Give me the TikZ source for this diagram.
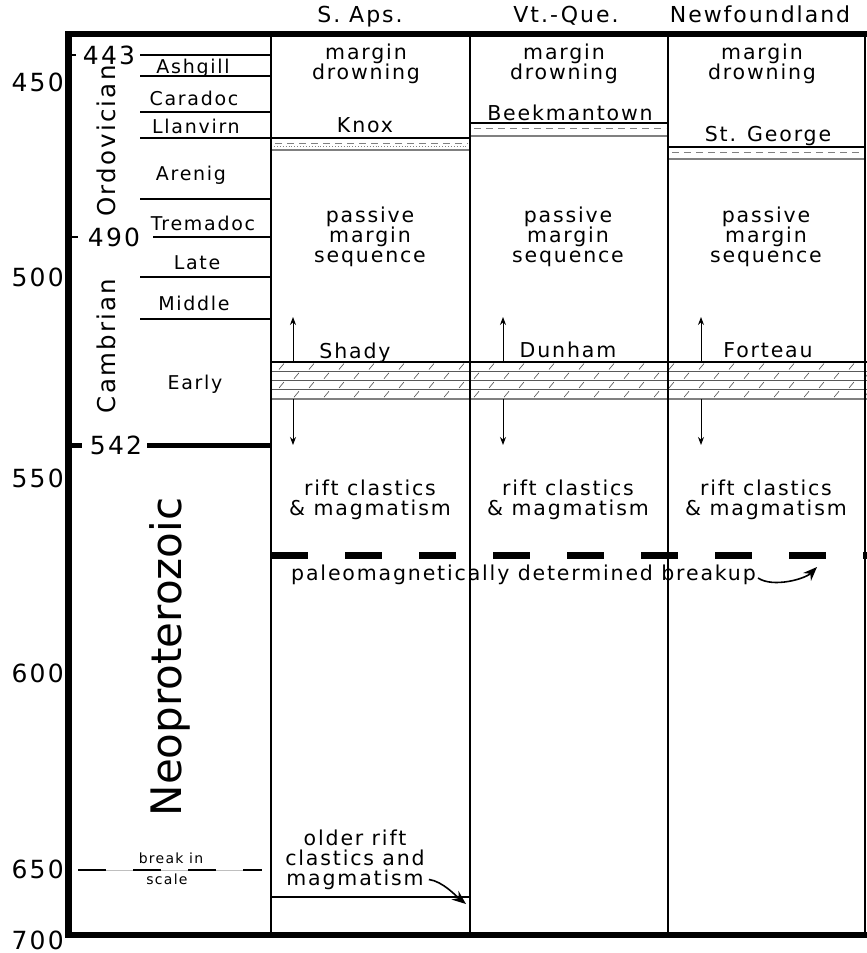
\documentclass[tikz,border=0pt]{standalone}
\usepackage{fontspec}
\setmainfont{DejaVu Sans}[LetterSpace=9]
\usetikzlibrary{arrows.meta}
\usetikzlibrary{positioning}

\begin{document}
\begin{tikzpicture}[x=1pt,y=-1pt,node distance=198pt,
  txt/.style={font=\fontsize{20.5}{20}\selectfont,align=center,anchor=base,inner sep=0pt},
  hdr/.style={font=\fontsize{22}{22}\selectfont,anchor=base,inner sep=0pt},
  stage/.style={font=\fontsize{19}{19}\selectfont,anchor=base,inner sep=0pt},
  age/.style={font=\fontsize{25}{25}\selectfont,inner sep=0pt},
  era/.style={font=\fontsize{24.5}{24.5}\selectfont,rotate=90,anchor=base,inner sep=0pt},
  heavy/.style={line width=6.5pt},
  divider/.style={line width=2.5pt},
  bound/.style={line width=1.6pt},
  move/.style={-{Stealth[length=8pt,width=6pt]},line width=1pt},
  curvearrow/.style={-{Stealth[length=14pt,width=11pt]},line width=1.6pt}]

\useasboundingbox (0,0) rectangle (867,953);

% limestone band
\foreach \r/\ya/\off in {0/362/8,1/371.25/23,2/380.5/8,3/389.75/23}
  \foreach \x in {0,30,...,570}
    \draw[gray!60!black,line width=0.6pt] (271+\x+\off,\ya+7.5) -- ++(5,-6);
\foreach \y in {371.25,380.5,389.75} \draw[gray!70!black,line width=0.8pt] (271,\y) -- (867,\y);
\draw[line width=1.2pt] (271,362) -- (867,362);
\draw[gray,line width=2pt] (271,399) -- (867,399);

% shale bands
\foreach \xa/\xb/\ta/\tb in {271/470/138/150,470/668/123/136,668/865/147/159} {
  \draw[line width=1.2pt] (\xa,\ta) -- (\xb,\ta);
  \draw[gray,line width=1.8pt] (\xa,\tb) -- (\xb,\tb);
  \draw[gray,line width=0.7pt,dash pattern=on 7pt off 5pt] (\xa+4,\ta+5) -- (\xb-2,\ta+5);
}
\draw[gray,line width=0.9pt,dotted] (274,146.5) -- (468,146.5);

% frame and columns
\draw[heavy] (67,34) -- (867,34);
\draw[heavy] (68.5,31) -- (68.5,938);
\draw[heavy] (67,935) -- (867,935);
\foreach \x in {271,470,668,865} \draw[divider] (\x,34) -- (\x,935);

% time scale
\foreach \y in {55,76,112,138,199,277,319} \draw[bound] (140,\y) -- (271,\y);
\draw[bound] (153,237) -- (271,237);
\draw[bound] (68,55) -- (76,55);
\draw[bound] (68,237) -- (78,237);
\draw[line width=5pt] (68,445) -- (82,445) (147,445) -- (271,445);

\node[age] (t443) at (109,55) {443};
\node[age] (t490) at (114,237) {490};
\node[age] (t542) at (116,445) {542};
\foreach \a/\y in {450/82,500/277,550/478,600/673,650/869,700/940}
  \node[age,anchor=east] (s\a) at (64,\y) {\a};

\node[stage] (ashgill)  at (193,73)  {Ashgill};
\node[stage] (caradoc)  at (194,105) {Caradoc};
\node[stage] (llanvirn) at (196,133) {Llanvirn};
\node[stage] (arenig)   at (191,180) {Arenig};
\node[stage] (tremadoc) at (203,230) {Tremadoc};
\node[stage] (late)     at (197,269) {Late};
\node[stage] (middle)   at (194,310) {Middle};
\node[stage] (early)    at (195,389) {Early};

\node[era] (ordo) at (115,141) {Ordovician};
\node[era] (camb) at (115,346) {Cambrian};
\node[era,font=\fontsize{42}{42}\selectfont\addfontfeature{LetterSpace=0}] (neo) at (181,657) {Neoproterozoic};

% break in scale
\draw[gray!50,line width=0.6pt] (78,870) -- (262,870);
\draw[line width=1.6pt,dash pattern=on 28pt off 27pt] (78,870) -- (262,870);
\node[txt,font=\fontsize{14}{14}\selectfont] (brk) at (171,863) {break in};
\node[txt,font=\fontsize{14}{14}\selectfont] (scl) at (167,884) {scale};

% columns
\node[hdr] (h_sa) at (360,23) {S. Aps.};
\node[hdr] (h_vq) at (566,23) {Vt.-Que.};
\node[hdr] (h_nf) at (760,23) {Newfoundland};

\node[txt] (md_sa) at (366,79) {margin\\drowning};
\node[txt] (md_vq) [right of=md_sa] {margin\\drowning};
\node[txt] (md_nf) [right of=md_vq] {margin\\drowning};

\node[txt] (knox)  at (365,132) {Knox};
\node[txt] (beek)  at (570,120) {Beekmantown};
\node[txt] (stgeo) at (768,141) {St. George};

\node[txt] (pms_sa) at (370,262) {passive\\margin\\sequence};
\node[txt] (pms_vq) [right of=pms_sa] {passive\\margin\\sequence};
\node[txt] (pms_nf) [right of=pms_vq] {passive\\margin\\sequence};

\node[txt] (shady)   at (355,358) {Shady};
\node[txt] (dunham)  at (568,357) {Dunham};
\node[txt] (forteau) at (768,357) {Forteau};

\foreach \x [count=\i] in {293,503,701} {
  \coordinate (lt\i) at (\x,362);
  \coordinate (lu\i) at (\x,317);
  \coordinate (lb\i) at (\x,399);
  \coordinate (ld\i) at (\x,445);
  \draw[move] (lt\i) -- (lu\i);
  \draw[move] (lb\i) -- (ld\i);
}

\node[txt] (rift_sa) at (370,515) {rift clastics\\\& magmatism};
\node[txt] (rift_vq) [right of=rift_sa] {rift clastics\\\& magmatism};
\node[txt] (rift_nf) [right of=rift_vq] {rift clastics\\\& magmatism};

% breakup
\draw[line width=7pt,dash pattern=on 37pt off 37pt] (271,555) -- (867,555);
\node[txt,anchor=base west] (brkup) at (291,580) {paleomagnetically determined breakup};
\coordinate (brk_tip) at (817,567);
\draw[curvearrow] ([xshift=2pt,yshift=2pt]brkup.base east) .. controls +(15pt,-10pt) and +(-12pt,-12pt) .. (brk_tip);

% older rift
\draw[bound] (271,897) -- (470,897);
\node[txt] (older) at (355,885) {older rift\\clastics and\\magmatism};
\coordinate (old_tip) at (466,904);
\draw[curvearrow] ([xshift=4pt,yshift=10pt]older.south east) .. controls +(14pt,-2pt) and +(-10pt,8pt) .. (old_tip);
\end{tikzpicture}
\end{document}
